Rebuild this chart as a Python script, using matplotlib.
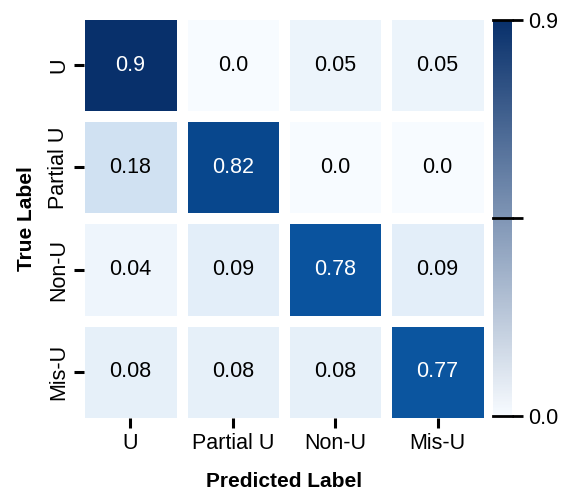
import numpy as np
import matplotlib.pyplot as plt
import matplotlib.colors as mcolors
import seaborn as sns

plt.rcParams['font.family'] = ['Liberation Sans', 'DejaVu Sans']

# etiquetas y valores de la matriz de confusion
labels = ['U', 'Partial U', 'Non-U', 'Mis-U']
matriz = np.array([
    [0.9, 0.0, 0.05, 0.05],
    [0.18, 0.82, 0.0, 0.0],
    [0.04, 0.09, 0.78, 0.09],
    [0.08, 0.08, 0.08, 0.77],
])
cbar_ticks = [0.0, 0.45, 0.9]
cbar_ticklabels = ['0.0', '', '0.9']

fig = plt.figure(figsize=(5.63, 4.93), dpi=100)
W, H = 563, 493
ax = fig.add_axes([84 / W, 1 - 418 / H, 400 / W, 399 / H])
cax = fig.add_axes([493 / W, 1 - 416 / H, (512 - 493) / W, (416 - 20) / H])

fs = 15.5
annot = [[str(v) for v in fila] for fila in matriz]
sns.heatmap(matriz, ax=ax, cmap='Blues', vmin=0, vmax=0.9, cbar=False,
            annot=np.array(annot), fmt='', linewidths=6.8, linecolor='white',
            annot_kws={'fontsize': fs})
for t in ax.texts:
    v = float(t.get_text())
    t.set_color('white' if v > 0.5 else 'black')

# recortamos el medio hueco blanco de los bordes
m = 0.0466
ax.set_xlim(m, 4 - m)
ax.set_ylim(4 - m, m)

ax.set_xticklabels(labels, fontsize=fs)
ax.set_yticklabels(labels, fontsize=fs, rotation=90, va='center')
ax.tick_params(length=7, width=2.2)
ax.set_xlabel('Predicted Label', fontsize=15, fontweight='bold', labelpad=13)
ax.set_ylabel('True Label', fontsize=15, fontweight='bold', labelpad=9)

# barra de color con un degradado lineal
cmap_barra = mcolors.LinearSegmentedColormap.from_list('barra', ['#f7fbff', '#08306b'])
sm = plt.cm.ScalarMappable(cmap=cmap_barra, norm=mcolors.Normalize(0, 0.9))
cbar = fig.colorbar(sm, cax=cax)
cbar.outline.set_visible(False)
cbar.set_ticks(cbar_ticks)
cbar.set_ticklabels(cbar_ticklabels)
cbar.ax.tick_params(length=8, width=2, labelsize=fs)
for v in cbar_ticks:
    cax.axhline(v, color='black', linewidth=2, clip_on=False)

fig.savefig('out.png', dpi=100)
